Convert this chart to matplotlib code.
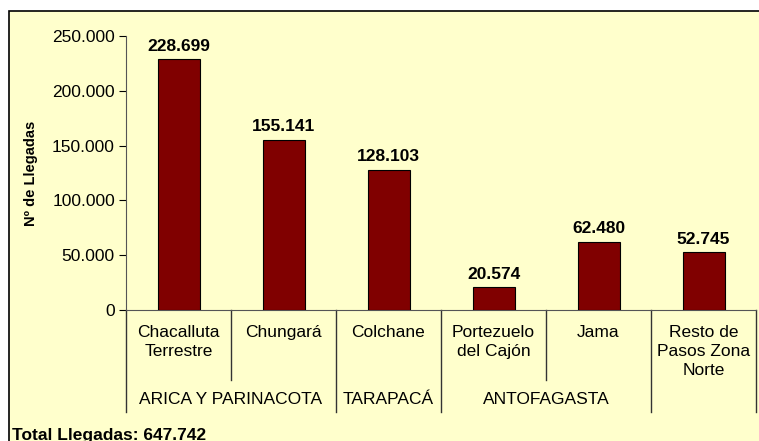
import matplotlib
matplotlib.use("Agg")
import matplotlib.pyplot as plt
from matplotlib.patches import Rectangle
from matplotlib.ticker import FuncFormatter

# data
pasos = ["Chacalluta\nTerrestre", "Chungará", "Colchane",
         "Portezuelo\ndel Cajón", "Jama", "Resto de\nPasos Zona\nNorte"]
llegadas = [228699, 155141, 128103, 20574, 62480, 52745]
regiones = ["ARICA Y PARINACOTA", "TARAPACÁ", "ANTOFAGASTA"]
region_span = [(0, 1), (2, 2), (3, 4)]
total = 647742

plt.rcParams['font.family'] = ['Liberation Sans', 'DejaVu Sans']

W, H = 759, 441
fig = plt.figure(figsize=(W / 100, H / 100), dpi=100)
fig.patch.set_facecolor("white")

# yellow framed background
fig.patches.append(Rectangle((9 / W, -0.05), 1.0, 1 - 11 / H + 0.05,
                             transform=fig.transFigure, facecolor="#FFFFCC",
                             edgecolor="black", linewidth=1.2, zorder=-1))

ax = fig.add_axes([126 / W, 1 - 310 / H, 630 / W, 274 / H])
ax.set_facecolor("none")

x = list(range(len(pasos)))
ax.bar(x, llegadas, width=0.4, color="#800000", edgecolor="black", linewidth=0.8, zorder=3)
for xi, v in zip(x, llegadas):
    ax.annotate(f"{v:,}".replace(",", "."), (xi, v), xytext=(0, 4),
                textcoords="offset points", ha="center", va="bottom",
                fontsize=12.5, fontweight="bold")

ax.set_xlim(-0.5, len(pasos) - 0.5)
ax.set_ylim(0, 250000)
ax.set_yticks(range(0, 250001, 50000))
ax.yaxis.set_major_formatter(FuncFormatter(lambda v, p: f"{int(v):,}".replace(",", ".")))
ax.tick_params(axis="y", direction="out", length=5, width=0.8, labelsize=12.5, pad=3,
               colors="black")
ax.spines["top"].set_visible(False)
ax.spines["right"].set_visible(False)
ax.spines["left"].set_color("#555555")
ax.spines["bottom"].set_color("#555555")
ax.set_xticks([])
ax.set_ylabel("Nº de Llegadas", fontsize=10.5, fontweight="bold", labelpad=10)

# multi-level category axis
trans = ax.get_xaxis_transform()
px = 1 / 274  # one pixel in axes fraction (height)
for xi, name in zip(x, pasos):
    ax.text(xi, -15 * px, name, transform=trans, ha="center", va="top",
            fontsize=12.5, linespacing=1.32)
group_edges = [-0.5, 1.5, 2.5, 4.5, 5.5]
inner_edges = [0.5, 3.5]
for e in group_edges:
    ax.plot([e, e], [0, -102 * px], transform=trans, color="#333333",
            linewidth=1, clip_on=False)
for e in inner_edges:
    ax.plot([e, e], [0, -70 * px], transform=trans, color="#333333",
            linewidth=1, clip_on=False)
for name, (a, b) in zip(regiones, region_span):
    ax.text((a + b) / 2, -90 * px, name, transform=trans, ha="center", va="center",
            fontsize=12.5)

fig.text(12 / W, 1 - 428 / H, "Total Llegadas: " + f"{total:,}".replace(",", "."),
         ha="left", va="top", fontsize=12.5, fontweight="bold")

fig.savefig("out.png", dpi=100)
